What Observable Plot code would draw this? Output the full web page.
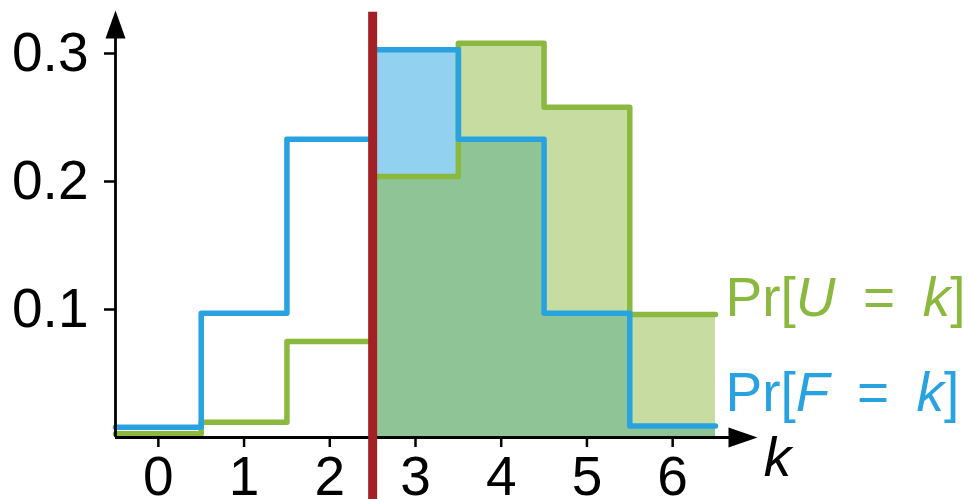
<!DOCTYPE html>
<html>
<head>
<meta charset="utf-8">
<script src="https://cdn.jsdelivr.net/npm/d3@7"></script>
<script src="https://cdn.jsdelivr.net/npm/@observablehq/plot@0.6"></script>
<style>
  html, body { margin: 0; padding: 0; background: #fff; }
  #chart { width: 969px; height: 499px; }
</style>
</head>
<body>
<div id="chart"></div>
<script>
// ---- data ----
const ks = [0, 1, 2, 3, 4, 5, 6];
const probF = [0.008, 0.097, 0.233, 0.303, 0.233, 0.097, 0.009];
const probU = [0.003, 0.012, 0.075, 0.204, 0.308, 0.258, 0.096];
const yTicks = [0.1, 0.2, 0.3];
const threshold = 2.5;
const labelU = "Pr[U = k]";
const labelF = "Pr[F = k]";
const axisLabel = "k";

// ---- axis extents ----
const xMin = -0.5, xMax = 6.5, xArrowTip = 6.99;
const yMax = 0.3, yArrowTip = 0.3336;
const redTop = 0.3323, redBottom = -0.05;

// ---- colours ----
const cBlue = "#29a3e0", cGreen = "#8bb83f";
const cBlueFill = "#92d1ef", cGreenFill = "#c6dca0", cBothFill = "#8ec496";
const cRed = "#a32125";

// build step tables from the arrays
const steps = (vals) => {
  const rows = ks.map((k, i) => ({x: k - 0.5, y: vals[i]}));
  rows.push({x: ks[ks.length - 1] + 0.5, y: vals[vals.length - 1]});
  return rows;
};
const stepF = steps(probF);
const stepU = steps(probU);
const overlap = steps(ks.map((k, i) => Math.min(probF[i], probU[i])));
const right = (rows) => rows.filter(d => d.x >= threshold);

const arrowRight = {draw(ctx, size) {
  const r = Math.sqrt(size / Math.PI);
  ctx.moveTo(0, 0); ctx.lineTo(-2.9 * r, -r); ctx.lineTo(-2.9 * r, r); ctx.closePath();
}};
const arrowUp = {draw(ctx, size) {
  const r = Math.sqrt(size / Math.PI);
  ctx.moveTo(0, 0); ctx.lineTo(-r, 2.8 * r); ctx.lineTo(r, 2.8 * r); ctx.closePath();
}};

const font = "Liberation Sans, Arial, sans-serif";
const fs = 55;

const plot = Plot.plot({
  width: 969,
  height: 499,
  marginLeft: 115,
  marginRight: 254,
  marginTop: 53,
  marginBottom: 62,
  style: {fontFamily: font, fontSize: fs + "px", background: "#fff", overflow: "visible"},
  x: {domain: [xMin, xMax]},
  y: {domain: [0, yMax]},
  marks: [
    Plot.areaY(right(stepU), {x: "x", y: "y", curve: "step-after", fill: cGreenFill}),
    Plot.areaY(right(stepF), {x: "x", y: "y", curve: "step-after", fill: cBlueFill}),
    Plot.areaY(right(overlap), {x: "x", y: "y", curve: "step-after", fill: cBothFill}),
    Plot.line(stepU, {x: "x", y: "y", curve: "step-after", stroke: cGreen, strokeWidth: 5.5, strokeLinejoin: "round"}),
    Plot.line(stepF, {x: "x", y: "y", curve: "step-after", stroke: cBlue, strokeWidth: 5.5, strokeLinejoin: "round"}),
    Plot.ruleY([0], {x1: xMin, x2: xArrowTip - 0.2, stroke: "#000", strokeWidth: 2.8}),
    Plot.ruleX([xMin], {y1: 0, y2: yArrowTip - 0.015, stroke: "#000", strokeWidth: 2.8}),
    Plot.dot([{x: xArrowTip, y: 0}], {x: "x", y: "y", r: 10, symbol: arrowRight, fill: "#000", stroke: "none"}),
    Plot.dot([{x: xMin, y: yArrowTip}], {x: "x", y: "y", r: 10, symbol: arrowUp, fill: "#000", stroke: "none"}),
    Plot.axisX({ticks: ks, tickFormat: d => String(d), tickSize: 10, tickPadding: 8, fontSize: fs, strokeWidth: 2.5, fill: "#000", label: null}),
    Plot.axisY({ticks: yTicks, tickFormat: d => d.toFixed(1), tickSize: 11, tickPadding: 16, fontSize: fs, strokeWidth: 2.5, fill: "#000", label: null}),
    Plot.ruleX([threshold], {y1: redTop, y2: redBottom, stroke: cRed, strokeWidth: 9}),
    Plot.text([axisLabel], {frameAnchor: "bottom-right", dx: 62, dy: 38, lineAnchor: "bottom", textAnchor: "middle", fontSize: fs, fontStyle: "italic", fill: "#000"}),
    Plot.text([labelU], {frameAnchor: "bottom-right", dx: 10, dy: -122, lineAnchor: "bottom", textAnchor: "start", fontSize: fs, fill: cGreen}),
    Plot.text([labelF], {frameAnchor: "bottom-right", dx: 10, dy: -27, lineAnchor: "bottom", textAnchor: "start", fontSize: fs, fill: cBlue})
  ]
});

// italic math variables inside the legend labels
d3.select(plot).selectAll("text").each(function() {
  const t = this.textContent;
  if (t === labelU || t === labelF) {
    const v = t === labelU ? "U" : "F";
    const sel = d3.select(this);
    sel.text(null);
    sel.append("tspan").text("Pr[");
    sel.append("tspan").attr("font-style", "italic").text(v);
    sel.append("tspan").text("\u2002=\u2002");
    sel.append("tspan").attr("font-style", "italic").text("k");
    sel.append("tspan").text("]");
  }
});

document.getElementById("chart").appendChild(plot);
</script>
</body>
</html>
